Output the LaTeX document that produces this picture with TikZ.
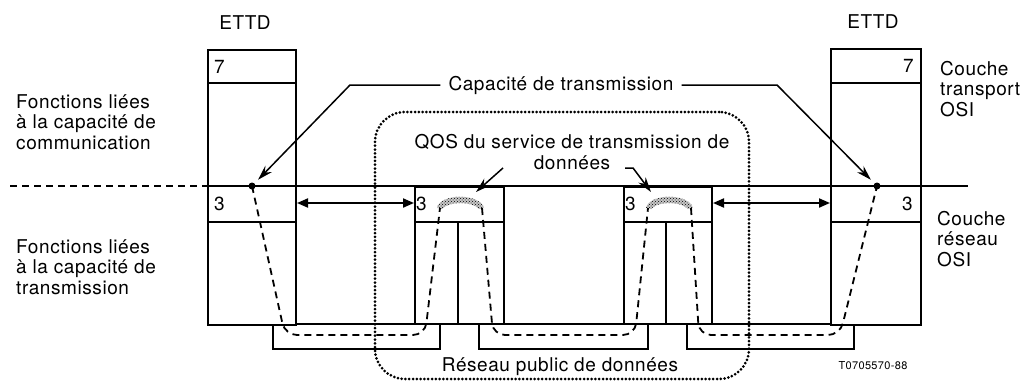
\documentclass[tikz,border=0pt]{standalone}
\usepackage{fontspec}
\setmainfont{TeX Gyre Heros}[LetterSpace=3]
\usetikzlibrary{arrows.meta,patterns}
\begin{document}
\begin{tikzpicture}[x=1pt,y=-1pt,
  every node/.style={font=\fontsize{19}{20.5}\selectfont, inner sep=0pt},
  box/.style={draw, line width=2pt, anchor=north west},
  ln/.style={line width=2pt},
  thinln/.style={line width=1.5pt},
  dsh/.style={line width=1.8pt, dash pattern=on 7pt off 5pt},
  dotbox/.style={draw, line width=3pt, dash pattern=on 0pt off 3.8pt, line cap=round, rounded corners=30pt},
  dotpt/.style={circle, fill, minimum size=7pt},
  dbl/.style={ln, {Triangle[length=11pt,width=9pt]}-{Triangle[length=11pt,width=9pt]}},
  lead/.style={thinln, -{Stealth[length=15pt,width=9pt]}},
  cloud/.style={pattern=crosshatch dots, pattern color=black}
]
\useasboundingbox (0,0) rectangle (1031,383);

% tabs (network links)
\node[box, minimum width=167pt, minimum height=25pt] (T1) at (272,323) {};
\node[box, minimum width=169pt, minimum height=25pt] (T2) at (478,323) {};
\node[box, minimum width=167pt, minimum height=25pt] (T3) at (686,323) {};

% boxes
\node[box, fill=white, minimum width=88pt, minimum height=275pt] (LE) at (207,49) {};
\node[box, fill=white, minimum width=89pt, minimum height=137pt] (R1) at (414,186) {};
\node[box, fill=white, minimum width=88pt, minimum height=137pt] (R2) at (623,186) {};
\node[box, fill=white, minimum width=90pt, minimum height=276pt] (RE) at (830,48) {};

% dividers
\draw[ln] (LE.west |- 0,83) -- (LE.east |- 0,83);
\draw[ln] (LE.west |- 0,222) -- (LE.east |- 0,222);
\draw[ln] (RE.west |- 0,83) -- (RE.east |- 0,83);
\draw[ln] (RE.west |- 0,222) -- (RE.east |- 0,222);
\draw[ln] (R1.west |- 0,222) -- (R1.east |- 0,222);
\draw[ln] (R2.west |- 0,222) -- (R2.east |- 0,222);
\draw[ln] (458,222) -- (R1.south -| 458,0);
\draw[ln] (666,222) -- (R2.south -| 666,0);

% horizontal boundary line
\draw[dsh] (10,186) -- (LE.west |- 0,186);
\draw[ln] (LE.west |- 0,186) -- (968,186);

% layer labels
\node (ettdL) at (245,23) {ETTD};
\node (ettdR) at (873,22) {ETTD};
\node[anchor=west] (l7) at (214,67) {7};
\node[anchor=east] (r7) at (914,66) {7};
\node[anchor=west] (l3) at (214,204) {3};
\node[anchor=east] (r3) at (913,204) {3};
\node[anchor=west] (a3) at (416,204) {3};
\node[anchor=west] (b3) at (625,204) {3};

% side texts
\node[anchor=west, align=left] (fc) at (16,122) {Fonctions liées\\à la capacité de\\communication};
\node[anchor=west, align=left] (ft) at (16,267) {Fonctions liées\\à la capacité de\\transmission};
\node[anchor=west, align=left] (ct) at (940,89) {Couche\\transport\\OSI};
\node[anchor=west, align=left] (cr) at (937,239) {Couche\\réseau\\OSI};

% double arrows
\draw[dbl] (LE.east |- 0,203) -- (R1.west |- 0,203);
\draw[dbl] (R2.east |- 0,203) -- (RE.west |- 0,203);

% dots
\node[dotpt] (d1) at (252,186) {};
\node[dotpt] (d2) at (877,186) {};

% clouds
\fill[gray!45] (437,208) .. controls (440,193) and (480,193) .. (484,208) -- (479,209) .. controls (472,201) and (449,201) .. (442,209) -- cycle;
\fill[cloud] (437,208) .. controls (440,193) and (480,193) .. (484,208) -- (479,209) .. controls (472,201) and (449,201) .. (442,209) -- cycle;
\fill[gray!45] (646,208) .. controls (649,193) and (689,193) .. (693,208) -- (688,209) .. controls (681,201) and (658,201) .. (651,209) -- cycle;
\fill[cloud] (646,208) .. controls (649,193) and (689,193) .. (693,208) -- (688,209) .. controls (681,201) and (658,201) .. (651,209) -- cycle;
\coordinate (c1) at (476,192);
\coordinate (c2) at (651,192);

% dashed paths
\draw[dsh, rounded corners=12pt] (d1.center) -- (285,335) -- (425,335) -- (440,208);
\draw[dsh, rounded corners=12pt] (482,208) -- (493,335) -- (635,335) -- (648,208);
\draw[dsh, rounded corners=12pt] (691,208) -- (699,335) -- (840,335) -- (d2.center);

% dotted network boundary
\node[dotbox, minimum width=374pt, minimum height=267pt] (pdn) at (562,245.5) {};
\node (rpd) at (560,367) {Réseau public de données};
\node[font=\fontsize{11}{12}\selectfont] (ref) at (873,366) {T0705570-88};

% capacity label
\node[inner xsep=8pt, fill=white] (cap) at (561,85) {Capacité de transmission};
\draw[lead, shorten >=5pt] (cap.west) -- (350,85) -- (d1);
\draw[lead, shorten >=5pt] (cap.east) -- (777,85) -- (d2);

% QOS label
\node[align=center] (qos) at (572,152) {QOS du service de transmission de\\données};
\coordinate (q1) at (503,168);
\coordinate (q2) at (625,168);
\draw[lead] (q1) -- (c1);
\draw[lead] (q2) -- (633,168) -- (c2);
\end{tikzpicture}
\end{document}
